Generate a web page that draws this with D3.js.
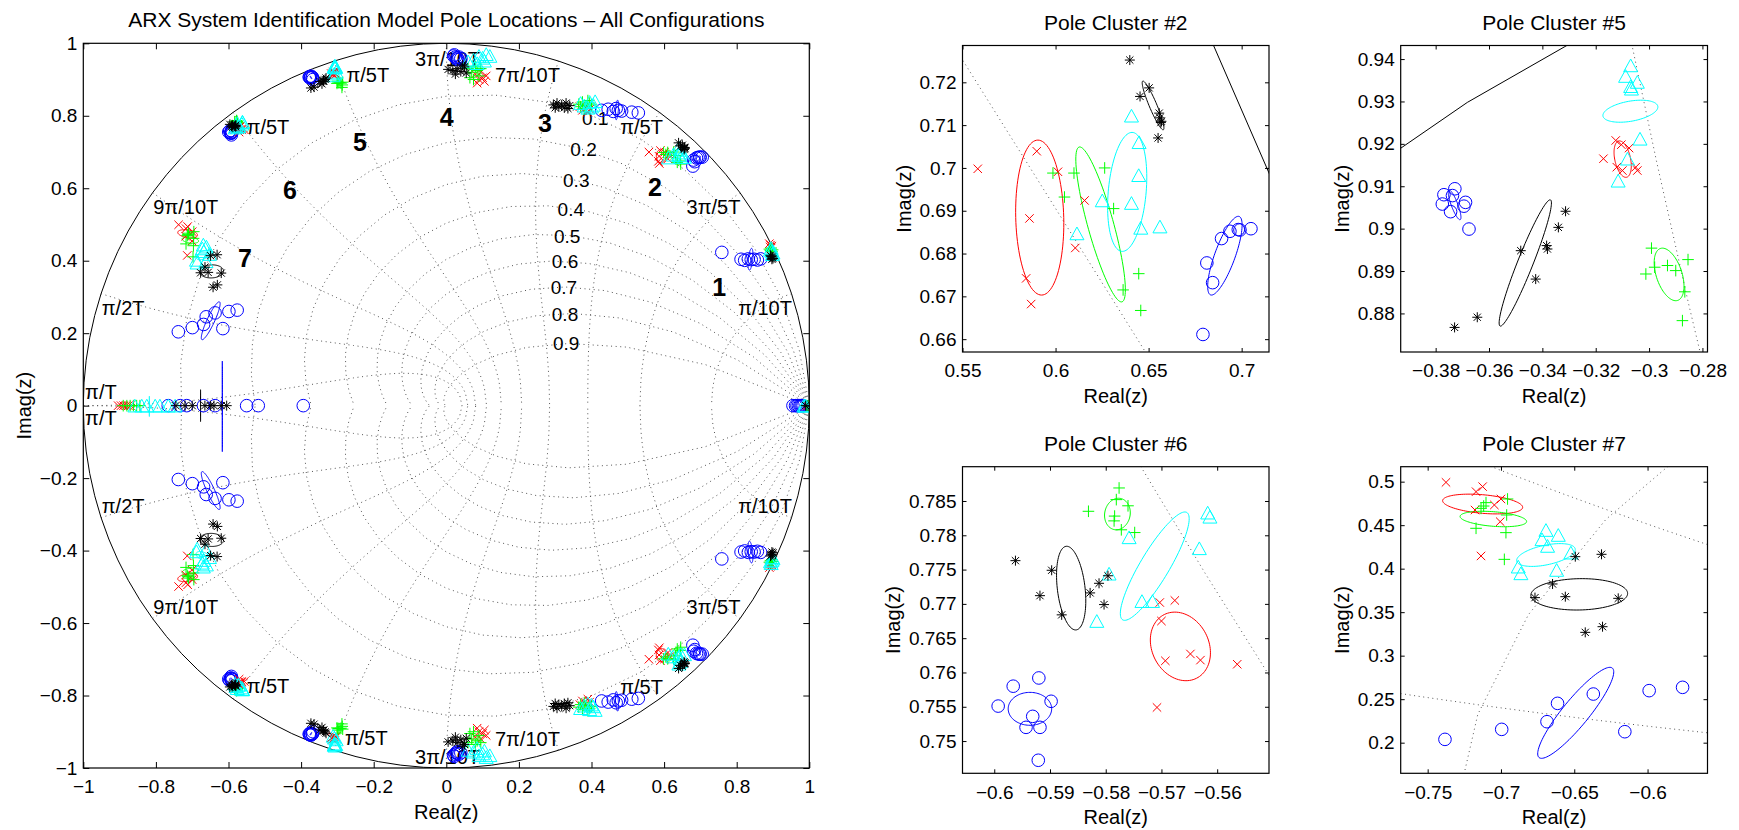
<!DOCTYPE html>
<html>
<head>
<meta charset="utf-8">
<script src="https://cdn.jsdelivr.net/npm/d3@7"></script>
<style>
  body { margin: 0; background: #fff; }
  svg text { font-family: "Liberation Sans", Arial, Helvetica, sans-serif; }
</style>
</head>
<body>
<svg id="fig" width="1739" height="830"></svg>
<script>
// poles: [marker, real, imag]  (o blue, x red, + green, ^ cyan, * black)
const cluster1 = [
  ["o",0.759,0.423],["o",0.812,0.404],["o",0.822,0.401],["o",0.832,0.405],["o",0.840,0.403],["o",0.848,0.404],["o",0.857,0.402],["o",0.866,0.405],
  ["x",0.890,0.447],["x",0.893,0.443],["x",0.897,0.440],["x",0.892,0.438],["x",0.895,0.435],
  ["+",0.890,0.432],["+",0.893,0.428],["+",0.897,0.425],["+",0.895,0.435],["+",0.899,0.430],
  ["^",0.893,0.430],["^",0.897,0.427],["^",0.900,0.422],["^",0.895,0.435],["^",0.898,0.418],
  ["*",0.895,0.412],["*",0.898,0.410],["*",0.900,0.406],["*",0.893,0.415],["*",0.897,0.404]
];
const cluster2 = [
  ["o",0.6813,0.6778],["o",0.6844,0.6732],["o",0.6892,0.6835],["o",0.6937,0.6852],["o",0.6982,0.6856],["o",0.6991,0.6855],["o",0.7050,0.6858],["o",0.6792,0.6611],
  ["x",0.5582,0.6998],["x",0.5899,0.7039],["x",0.6013,0.6991],["x",0.5860,0.6882],["x",0.6156,0.6924],["x",0.6106,0.6813],["x",0.5842,0.6742],["x",0.5869,0.6682],
  ["+",0.5986,0.6988],["+",0.6099,0.6988],["+",0.6048,0.6932],["+",0.6264,0.7000],["+",0.6312,0.6905],["+",0.6447,0.6753],["+",0.6363,0.6715],["+",0.6458,0.6667],
  ["^",0.6408,0.7122],["^",0.6449,0.7060],["^",0.6447,0.6983],["^",0.6408,0.6918],["^",0.6251,0.6924],["^",0.6458,0.6860],["^",0.6561,0.6863],["^",0.6115,0.6847],
  ["*",0.6399,0.7252],["*",0.6503,0.7187],["*",0.6454,0.7167],["*",0.6557,0.7128],["*",0.6560,0.7117],["*",0.6569,0.7109],["*",0.6566,0.7106],["*",0.6551,0.7070]
];
const cluster3 = [
  ["o",0.428,0.815],["o",0.446,0.818],["o",0.460,0.812],["o",0.468,0.820],["o",0.474,0.815],["o",0.483,0.813],["o",0.511,0.810],["o",0.529,0.808],
  ["x",0.375,0.815],["x",0.385,0.822],["x",0.390,0.810],["x",0.368,0.825],["x",0.395,0.818],
  ["+",0.365,0.832],["+",0.375,0.838],["+",0.385,0.828],["+",0.395,0.835],["+",0.380,0.820],["+",0.390,0.842],["+",0.370,0.825],["+",0.400,0.830],
  ["^",0.370,0.835],["^",0.380,0.828],["^",0.395,0.838],["^",0.405,0.830],["^",0.390,0.822],["^",0.410,0.840],["^",0.400,0.825],
  ["*",0.295,0.830],["*",0.305,0.835],["*",0.310,0.825],["*",0.318,0.830],["*",0.325,0.822],["*",0.330,0.835],["*",0.335,0.820],["*",0.340,0.828],["*",0.300,0.822]
];
const cluster4 = [
  ["o",0.020,0.965],["o",0.025,0.962],["o",0.030,0.960],["o",0.028,0.957],["o",0.035,0.962],["o",0.022,0.968],["o",0.040,0.958],["o",0.032,0.955],
  ["x",0.080,0.915],["x",0.090,0.900],["x",0.100,0.905],["x",0.105,0.895],["x",0.095,0.920],["x",0.085,0.890],["x",0.110,0.910],
  ["+",0.060,0.930],["+",0.070,0.920],["+",0.080,0.935],["+",0.090,0.910],["+",0.075,0.900],["+",0.085,0.925],["+",0.095,0.930],["+",0.065,0.905],
  ["^",0.060,0.950],["^",0.075,0.955],["^",0.090,0.965],["^",0.100,0.960],["^",0.110,0.970],["^",0.120,0.965],["^",0.085,0.945],["^",0.105,0.952],
  ["*",0.005,0.928],["*",0.018,0.925],["*",0.030,0.930],["*",0.040,0.922],["*",0.050,0.935],["*",0.055,0.918],["*",0.045,0.940],["*",0.025,0.915]
];
const cluster5 = [
  ["o",-0.3769,0.9080],["o",-0.3728,0.9094],["o",-0.3737,0.9078],["o",-0.3775,0.9058],["o",-0.3744,0.9040],["o",-0.3688,0.9062],["o",-0.3694,0.9053],["o",-0.3675,0.8999],
  ["x",-0.3125,0.9208],["x",-0.3104,0.9198],["x",-0.3075,0.9190],["x",-0.3171,0.9165],["x",-0.3121,0.9145],["x",-0.3100,0.9137],["x",-0.3044,0.9137],["x",-0.3050,0.9145],
  ["+",-0.2991,0.8954],["+",-0.2979,0.8909],["+",-0.2931,0.8913],["+",-0.2900,0.8901],["+",-0.3012,0.8893],["+",-0.2854,0.8927],["+",-0.2866,0.8851],["+",-0.2875,0.8783],
  ["^",-0.3069,0.9385],["^",-0.3088,0.9360],["^",-0.3044,0.9346],["^",-0.3069,0.9336],["^",-0.3066,0.9330],["^",-0.3034,0.9212],["^",-0.3081,0.9165],["^",-0.3116,0.9113],
  ["*",-0.3729,0.8767],["*",-0.3644,0.8791],["*",-0.3481,0.8948],["*",-0.3425,0.8881],["*",-0.3384,0.8960],["*",-0.3381,0.8952],["*",-0.3340,0.9003],["*",-0.3313,0.9041]
];
const cluster6 = [
  ["o",-0.5993,0.7551],["o",-0.5966,0.7580],["o",-0.5920,0.7592],["o",-0.5898,0.7558],["o",-0.5931,0.7536],["o",-0.5943,0.7520],["o",-0.5918,0.7520],["o",-0.5921,0.7472],
  ["x",-0.5703,0.7702],["x",-0.5676,0.7705],["x",-0.5700,0.7675],["x",-0.5693,0.7617],["x",-0.5648,0.7627],["x",-0.5630,0.7618],["x",-0.5564,0.7612],["x",-0.5708,0.7549],
  ["+",-0.5776,0.7869],["+",-0.5781,0.7852],["+",-0.5831,0.7835],["+",-0.5760,0.7843],["+",-0.5784,0.7828],["+",-0.5785,0.7821],["+",-0.5772,0.7808],["+",-0.5748,0.7804],
  ["^",-0.5794,0.7744],["^",-0.5816,0.7675],["^",-0.5758,0.7797],["^",-0.5735,0.7704],["^",-0.5716,0.7704],["^",-0.5632,0.7781],["^",-0.5617,0.7833],["^",-0.5613,0.7827],
  ["*",-0.5962,0.7763],["*",-0.5897,0.7749],["*",-0.5918,0.7712],["*",-0.5879,0.7684],["*",-0.5828,0.7716],["*",-0.5812,0.7730],["*",-0.5796,0.7741],["*",-0.5803,0.7699]
];
const cluster7 = [
  ["o",-0.7382,0.2038],["o",-0.6995,0.2153],["o",-0.6686,0.2241],["o",-0.6614,0.2452],["o",-0.6370,0.2559],["o",-0.6155,0.2126],["o",-0.5989,0.2598],["o",-0.5761,0.2636],
  ["x",-0.7375,0.4992],["x",-0.7170,0.4885],["x",-0.7125,0.4943],["x",-0.7000,0.4801],["x",-0.7045,0.4732],["x",-0.7177,0.4674],["x",-0.7005,0.4540],["x",-0.7136,0.4146],
  ["+",-0.7102,0.4759],["+",-0.7118,0.4720],["+",-0.7136,0.4693],["+",-0.6955,0.4801],["+",-0.6961,0.4617],["+",-0.7170,0.4464],["+",-0.6966,0.4414],["+",-0.6977,0.4107],
  ["^",-0.6693,0.4444],["^",-0.6609,0.4387],["^",-0.6720,0.4337],["^",-0.6682,0.4261],["^",-0.6523,0.4184],["^",-0.6882,0.4023],["^",-0.6864,0.3946],["^",-0.6620,0.3985],
  ["*",-0.6768,0.3667],["*",-0.6648,0.3824],["*",-0.6561,0.3678],["*",-0.6200,0.3659],["*",-0.6493,0.4138],["*",-0.6314,0.4165],["*",-0.6425,0.3268],["*",-0.6307,0.3333]
];
const realAxisPoles = [
  ["o",-0.766,0],["o",-0.733,0],["o",-0.715,0],["o",-0.669,0],["o",-0.637,0],["o",-0.550,0],["o",-0.518,0],["o",-0.394,0],
  ["x",-0.904,0],["x",-0.896,0],["x",-0.889,0],["x",-0.882,0],["x",-0.876,0],["x",-0.870,0],
  ["+",-0.890,0],["+",-0.880,0],["+",-0.871,0],["+",-0.862,0],["+",-0.853,0],["+",-0.844,0],
  ["^",-0.858,0],["^",-0.839,0],["^",-0.825,0],["^",-0.802,0],["^",-0.789,0],["^",-0.766,0],["^",-0.747,0],
  ["*",-0.745,0],["*",-0.720,0],["*",-0.700,0],["*",-0.665,0],["*",-0.650,0],["*",-0.640,0],["*",-0.620,0],["*",-0.605,0]
];
const nearOnePoles = [
  ["o",0.955,0],["o",0.962,0],["o",0.966,0],["o",0.970,0],["o",0.974,0],["o",0.977,0],["o",0.980,0],["o",0.983,0],
  ["x",0.995,0],["^",0.985,0],["^",0.988,0],["^",0.990,0],["+",0.993,0],["+",0.997,0],["*",0.990,0]
];

// spread ellipses: [marker, cx, cy, ux, uy, vx, vy]  ->  c + u cos t + v sin t
const ellipses1 = [["o",0.838,0.404,0.006,0,0.003,0.030]];
const ellipses2 = [
  ["x",0.5915,0.6884,0.0129,0,-0.0010,0.0181],
  ["+",0.6242,0.6868,0.0072,0,-0.0112,0.0181],
  ["^",0.6385,0.6944,0.0102,0,0.0026,0.0139],
  ["*",0.6524,0.7146,0.0022,0,-0.0054,0.0057],
  ["o",0.6910,0.6795,0.0058,0,0.0072,0.0092]
];
const ellipses3 = [["o",0.470,0.816,0.004,0,0.002,0.027]];
const ellipses5 = [
  ["o",-0.3729,0.9056,0.0013,0,-0.0020,0.0035],
  ["x",-0.3099,0.9164,0.0030,0,-0.0012,0.0043],
  ["+",-0.2925,0.8892,0.0050,0,-0.0025,0.0062],
  ["^",-0.3070,0.9277,0.0103,0.0010,0,0.0024],
  ["*",-0.3464,0.8919,0.0031,0,0.0093,0.0149]
];
const ellipses6 = [
  ["+",-0.5779,0.7831,0.0023,0,0.0002,0.0023],
  ["*",-0.5862,0.7723,0.0025,0,-0.0008,0.0061],
  ["^",-0.5712,0.7755,0.0030,0,0.0054,0.0079],
  ["x",-0.5666,0.7638,0.0053,0,-0.0010,0.0050],
  ["o",-0.5936,0.7547,0.0039,0,0,0.0024]
];
const ellipses7 = [
  ["x",-0.7125,0.4743,0.0273,-0.0038,0,0.0107],
  ["+",-0.7052,0.4571,0.0227,-0.0029,0,0.0084],
  ["^",-0.6693,0.4157,0.0200,0.0063,0,0.0115],
  ["*",-0.6466,0.3705,0.0330,0.0010,0,0.0180],
  ["o",-0.6490,0.2343,0.0114,0,0.0233,0.0523]
];
const realEllipses = [
  ["o",-0.617,-0.002,0,0,0,0.125],
  ["*",-0.677,0,0,0,0,0.044],
  ["^",-0.818,-0.002,0,0,0,0.028]
];

// z-grid
const zetaValues = [0.1,0.2,0.3,0.4,0.5,0.6,0.7,0.8,0.9];
const wnFractions = [0.1,0.2,0.3,0.4,0.5,0.6,0.7,0.8,0.9,1.0]; // times pi/T

// grid labels [text, x, y] in data units (x = left edge)
const freqLabels = [
  ["3π/10T",-0.086,0.958],["7π/10T",0.134,0.912],["π/5T",-0.275,0.912],["π/5T",-0.55,0.77],
  ["π/5T",0.479,0.77],["3π/5T",0.662,0.549],["9π/10T",-0.807,0.549],["π/10T",0.804,0.269],
  ["π/2T",-0.949,0.269],["π/T",-0.995,0.037],
  ["3π/10T",-0.086,-0.969],["7π/10T",0.134,-0.92],["π/5T",-0.279,-0.918],["π/5T",-0.55,-0.775],
  ["π/5T",0.479,-0.777],["3π/5T",0.662,-0.555],["9π/10T",-0.807,-0.555],["π/10T",0.804,-0.277],
  ["π/2T",-0.949,-0.277],["π/T",-0.995,-0.035]
];
const dampLabels = [
  ["0.1",0.41,0.794],["0.2",0.378,0.706],["0.3",0.358,0.623],["0.4",0.343,0.542],["0.5",0.333,0.468],
  ["0.6",0.327,0.397],["0.7",0.324,0.327],["0.8",0.327,0.253],["0.9",0.33,0.172]
];
const clusterLabels = [
  ["1",0.752,0.328],["2",0.575,0.604],["3",0.272,0.779],["4",0.001,0.797],
  ["5",-0.238,0.728],["6",-0.431,0.595],["7",-0.555,0.407]
];

// axes
const mainTicks = [-1,-0.8,-0.6,-0.4,-0.2,0,0.2,0.4,0.6,0.8,1];
const zoomTitles = ["Pole Cluster #2","Pole Cluster #5","Pole Cluster #6","Pole Cluster #7"];
const zoomXDomains = [[0.55,0.7147],[-0.3931,-0.2781],[-0.6057,-0.5507],[-0.7684,-0.5591]];
const zoomYDomains = [[0.657,0.7286],[0.8709,0.9432],[0.7453,0.790],[0.1648,0.5172]];
const zoomXTicks = [
  [0.55,0.6,0.65,0.7],
  [-0.38,-0.36,-0.34,-0.32,-0.3,-0.28],
  [-0.6,-0.59,-0.58,-0.57,-0.56],
  [-0.75,-0.7,-0.65,-0.6]
];
const zoomYTicks = [
  [0.66,0.67,0.68,0.69,0.7,0.71,0.72],
  [0.88,0.89,0.9,0.91,0.92,0.93,0.94],
  [0.75,0.755,0.76,0.765,0.77,0.775,0.78,0.785],
  [0.2,0.25,0.3,0.35,0.4,0.45,0.5]
];

const colors = { "o": "#0000ff", "x": "#ff0000", "+": "#00ff00", "^": "#00ffff", "*": "#000000" };
const shapes = {
  "x": "M-4.2,-4.2L4.2,4.2M-4.2,4.2L4.2,-4.2",
  "+": "M-5.8,0H5.8M0,-5.8V5.8",
  "*": "M-5,0H5M0,-5V5M-3.6,-3.6L3.6,3.6M-3.6,3.6L3.6,-3.6",
  "^": "M0,-6.4L7,6.3L-7,6.3Z"
};
const markerOrder = ["o", "x", "+", "^", "*"];
const gridStroke = "#555";
const gridDash = "1,3.6";

const svg = d3.select("#fig");
const defs = svg.append("defs");
let clipCount = 0;

// conjugate halves
const complexClusters = [cluster1, cluster2, cluster3, cluster4, cluster5, cluster6, cluster7];
const allPoints = [];
complexClusters.forEach(c => c.forEach(p => {
  allPoints.push(p);
  allPoints.push([p[0], p[1], -p[2]]);
}));
realAxisPoles.forEach(p => allPoints.push(p));
nearOnePoles.forEach(p => allPoints.push(p));

const allEllipses = [];
[ellipses1, ellipses2, ellipses3, ellipses5, ellipses6, ellipses7].forEach(list => list.forEach(e => {
  allEllipses.push(e);
  allEllipses.push([e[0], e[1], -e[2], e[3], -e[4], e[5], -e[6]]);
}));
realEllipses.forEach(e => allEllipses.push(e));

const fmt = d => (d < 0 ? "\u2212" : "") + String(Math.abs(d));

function drawPanel(box, xDom, yDom, xTicks, yTicks, title, tickLen, isMain) {
  const x = d3.scaleLinear().domain(xDom).range([box.l, box.r]);
  const y = d3.scaleLinear().domain(yDom).range([box.b, box.t]);
  const line = d3.line().x(d => x(d[0])).y(d => y(d[1]));

  const id = "clip" + (clipCount++);
  defs.append("clipPath").attr("id", id).append("rect")
    .attr("x", box.l).attr("y", box.t).attr("width", box.r - box.l).attr("height", box.b - box.t);

  const g = svg.append("g");
  const plot = g.append("g").attr("clip-path", `url(#${id})`);

  // damping lines
  zetaValues.forEach(z => {
    const m = z / Math.sqrt(1 - z * z);
    [1, -1].forEach(s => {
      const pts = d3.range(0, 21).map(k => {
        const th = k * Math.PI / 20, r = Math.exp(-m * th);
        return [r * Math.cos(th), s * r * Math.sin(th)];
      });
      plot.append("path").attr("d", line(pts)).attr("fill", "none")
        .attr("stroke", gridStroke).attr("stroke-width", 1).attr("stroke-dasharray", gridDash);
    });
  });
  // natural frequency lines
  wnFractions.forEach(f => {
    const wn = f * Math.PI;
    [1, -1].forEach(s => {
      const pts = d3.range(0, 51).map(k => {
        const z = k / 50, r = Math.exp(-z * wn), th = wn * Math.sqrt(1 - z * z);
        return [r * Math.cos(th), s * r * Math.sin(th)];
      });
      plot.append("path").attr("d", line(pts)).attr("fill", "none")
        .attr("stroke", gridStroke).attr("stroke-width", 1).attr("stroke-dasharray", gridDash);
    });
  });
  // unit circle
  const circ = d3.range(0, 101).map(k => [Math.cos(k * 2 * Math.PI / 100), Math.sin(k * 2 * Math.PI / 100)]);
  plot.append("path").attr("d", line(circ)).attr("fill", "none").attr("stroke", "#000").attr("stroke-width", 1);

  if (isMain) {
    plot.selectAll("text.freq").data(freqLabels).join("text")
      .attr("x", d => x(d[1])).attr("y", d => y(d[2])).attr("dy", "0.35em")
      .attr("font-size", 20).attr("fill", "#000").text(d => d[0]);
    plot.selectAll("text.damp").data(dampLabels).join("text")
      .attr("x", d => x(d[1])).attr("y", d => y(d[2])).attr("dy", "0.35em")
      .attr("text-anchor", "middle").attr("font-size", 19).attr("fill", "#000").text(d => d[0]);
    plot.selectAll("text.num").data(clusterLabels).join("text")
      .attr("x", d => x(d[1])).attr("y", d => y(d[2])).attr("dy", "0.36em")
      .attr("text-anchor", "middle").attr("font-size", 25).attr("font-weight", "bold")
      .attr("fill", "#000").text(d => d[0]);
  }

  // ellipses
  allEllipses.forEach(e => {
    const pts = d3.range(0, 101).map(k => {
      const t = k * 2 * Math.PI / 100;
      return [e[1] + e[3] * Math.cos(t) + e[5] * Math.sin(t), e[2] + e[4] * Math.cos(t) + e[6] * Math.sin(t)];
    });
    plot.append("path").attr("d", line(pts)).attr("fill", "none")
      .attr("stroke", colors[e[0]]).attr("stroke-width", 1);
  });

  // markers
  markerOrder.forEach(mk => {
    const pts = allPoints.filter(p => p[0] === mk);
    if (mk === "o") {
      plot.append("g").selectAll("circle").data(pts).join("circle")
        .attr("cx", p => x(p[1])).attr("cy", p => y(p[2])).attr("r", 6.3)
        .attr("fill", "none").attr("stroke", colors.o).attr("stroke-width", 1);
    } else {
      plot.append("g").selectAll("path").data(pts).join("path")
        .attr("transform", p => `translate(${x(p[1])},${y(p[2])})`)
        .attr("d", shapes[mk]).attr("fill", "none")
        .attr("stroke", colors[mk]).attr("stroke-width", 1);
    }
  });

  // axes, ticks inside on all four sides
  const axisStyle = sel => {
    sel.attr("font-size", 19).attr("font-family", '"Liberation Sans", Arial, Helvetica, sans-serif');
    sel.select(".domain").remove();
    sel.selectAll(".tick line").attr("stroke", "#000");
    sel.selectAll(".tick text").attr("fill", "#000");
  };
  g.append("g").attr("transform", `translate(0,${box.b})`)
    .call(d3.axisBottom(x).tickValues(xTicks).tickSize(-tickLen).tickPadding(12).tickFormat(fmt)).call(axisStyle);
  g.append("g").attr("transform", `translate(0,${box.t})`)
    .call(d3.axisTop(x).tickValues(xTicks).tickSize(-tickLen).tickFormat("")).call(axisStyle);
  const left = g.append("g").attr("transform", `translate(${box.l},0)`)
    .call(d3.axisLeft(y).tickValues(yTicks).tickSize(-tickLen).tickPadding(6).tickFormat(fmt)).call(axisStyle);
  g.append("g").attr("transform", `translate(${box.r},0)`)
    .call(d3.axisRight(y).tickValues(yTicks).tickSize(-tickLen).tickFormat("")).call(axisStyle);

  g.append("rect").attr("x", box.l).attr("y", box.t)
    .attr("width", box.r - box.l).attr("height", box.b - box.t)
    .attr("fill", "none").attr("stroke", "#000").attr("stroke-width", 1.2);

  const cx = (box.l + box.r) / 2, cy = (box.t + box.b) / 2;
  g.append("text").attr("x", cx).attr("y", box.t - 16).attr("text-anchor", "middle")
    .attr("font-size", 21).attr("fill", "#000").text(title);
  g.append("text").attr("x", cx).attr("y", box.b + 51).attr("text-anchor", "middle")
    .attr("font-size", 20).attr("fill", "#000").text("Real(z)");
  const lb = left.node().getBBox();
  const lx = box.l + lb.x - 9;
  g.append("text").attr("transform", `translate(${lx},${cy}) rotate(-90)`)
    .attr("text-anchor", "middle").attr("font-size", 20).attr("fill", "#000").text("Imag(z)");
}

drawPanel({ l: 83.3, r: 809.3, t: 43.3, b: 768 }, [-1, 1], [-1, 1], mainTicks, mainTicks,
  "ARX System Identification Model Pole Locations \u2013 All Configurations", 6, true);

const zoomBoxes = [
  { l: 962.5, r: 1269, t: 45.5, b: 352 },
  { l: 1400.7, r: 1707.5, t: 45.5, b: 352 },
  { l: 962.5, r: 1269, t: 466.7, b: 773.3 },
  { l: 1400.7, r: 1707.5, t: 466.7, b: 773.3 }
];
zoomBoxes.forEach((b, i) => {
  drawPanel(b, zoomXDomains[i], zoomYDomains[i], zoomXTicks[i], zoomYTicks[i], zoomTitles[i], 4, false);
});
</script>
</body>
</html>
